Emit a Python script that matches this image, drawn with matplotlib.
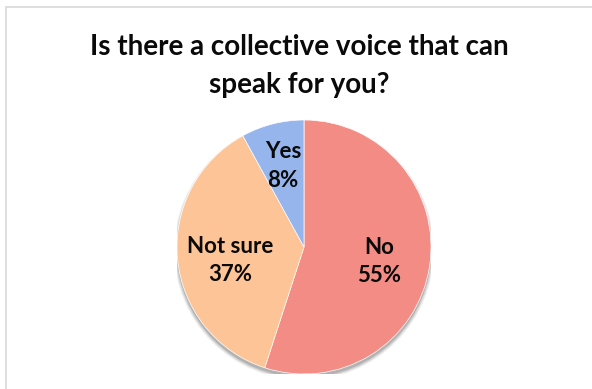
import matplotlib.pyplot as plt
import numpy as np
from matplotlib.patches import Circle

# Survey answers
answers = ["No", "Not sure", "Yes"]
shares = [55, 37, 8]
colors = ["#F28C84", "#FDC597", "#95B5EC"]
title = "Is there a collective voice that can\nspeak for you?"

plt.rcParams["font.family"] = ["Lato", "DejaVu Sans"]

fig = plt.figure(figsize=(5.92, 3.89), dpi=100)

# light grey chart border (left and top edges visible)
fig.patches.append(
    plt.Rectangle((6 / 592, -0.1), 1.2, 1 - 7 / 389 + 0.1,
                  transform=fig.transFigure, fill=False,
                  edgecolor="#D9D9D9", linewidth=1.2)
)

fig.text(0.505, 0.83, title, ha="center", va="center",
         fontsize=20, fontweight="bold", linespacing=1.55, color="#0A0A0A")

ax = fig.add_axes([(304 - 127) / 592, (389 - 247 - 127) / 389, 254 / 592, 254 / 389])

# soft shadow beneath the pie
for i, a in enumerate([0.05, 0.07, 0.09, 0.12]):
    ax.add_patch(Circle((0, -0.025), 1.0 + 0.025 - i * 0.008, color="black",
                        alpha=a, lw=0, zorder=0))

wedges, _ = ax.pie(shares, colors=colors, startangle=90, counterclock=False,
                   radius=1.0, wedgeprops=dict(linewidth=0.5, edgecolor="white"))

# label placement: radial distance and small nudge per slice
label_dist = [0.6, 0.6, 0.63]
label_nudge = [(0.0, -0.02), (0.02, -0.05), (-0.01, 0.03)]
for w, name, pct, d, (nx, ny) in zip(wedges, answers, shares, label_dist, label_nudge):
    ang = np.deg2rad((w.theta1 + w.theta2) / 2)
    x = d * np.cos(ang) + nx
    y = d * np.sin(ang) + ny
    ax.text(x, y, f"{name}\n{pct}%", ha="center", va="center",
            fontsize=16, fontweight="bold", color="#0A0A0A", linespacing=1.45)

ax.set_xlim(-1, 1)
ax.set_ylim(-1, 1)
ax.set_aspect("equal")
ax.axis("off")

fig.savefig("out.png", dpi=100)
